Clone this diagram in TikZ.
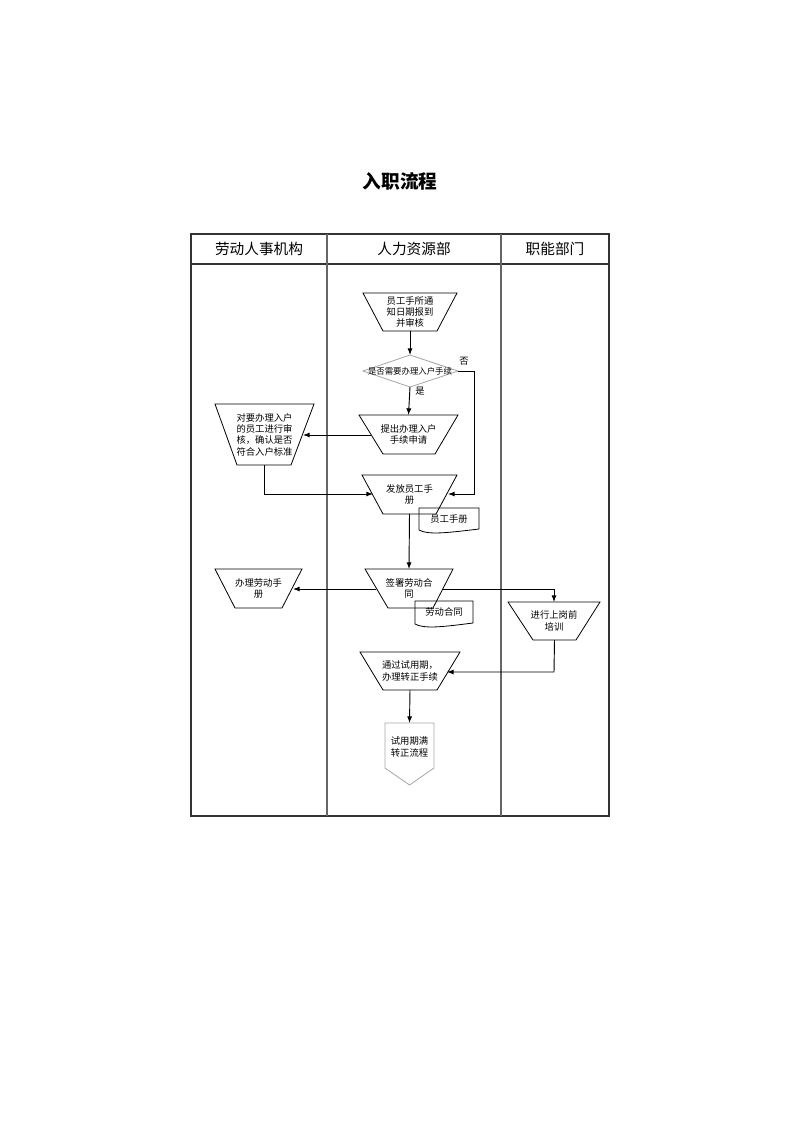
\documentclass[tikz,border=0pt]{standalone}
\usepackage{fontspec}
\setmainfont{Noto Sans CJK SC}
\usetikzlibrary{arrows.meta}
\newcommand{\mytrap}[8]{%
  \draw[shp] (#2,#4) -- (#3,#4) -- (#6,#7) -- (#5,#7) -- cycle;
  \node[txt] (#1) at ({(#2+#3)/2},{(#4+#7)/2}) {#8};
  \coordinate (#1-n) at ({(#2+#3)/2},#4);
  \coordinate (#1-s) at ({(#5+#6)/2},#7);
}
\begin{document}
\begin{tikzpicture}[x=0.75pt,y=-0.75pt,
  shp/.style={draw=black,line width=0.6pt},
  txt/.style={font=\fontsize{7}{8.5}\selectfont,align=center,inner sep=0pt},
  lbl/.style={font=\fontsize{7}{8.5}\selectfont,inner sep=0pt},
  hdr/.style={font=\fontsize{11}{13}\selectfont,inner sep=0pt},
  conn/.style={draw=black,line width=0.7pt},
  arr/.style={conn,-{Latex[length=5pt,width=3.8pt]}},
  frame/.style={draw=black!80,line width=1.1pt},
  colline/.style={draw=black!60,line width=0.8pt}]
\useasboundingbox (0,0) rectangle (800,1131);
% title
\node[font=\fontsize{14}{16}\selectfont\bfseries,inner sep=0pt] (title) at (400,181) {入职流程};
% table
\draw[frame] (191,234) rectangle (609,816);
\draw[frame,line width=0.8pt] (191,264) -- (609,264);
\draw[colline] (327,234) -- (327,816);
\draw[colline] (501,234) -- (501,816);
\node[hdr] (h1) at (259,249) {劳动人事机构};
\node[hdr] (h2) at (414,249) {人力资源部};
\node[hdr] (h3) at (555,249) {职能部门};
% shapes
\mytrap{t1}{363}{457}{293}{383}{437}{331}{员工手所通\\知日期报到\\并审核}
\draw[draw=black!35,line width=0.6pt] (363,371) -- (410,355) -- (458,371) -- (410,387) -- cycle;
\node[txt,font=\fontsize{6.3}{7.5}\selectfont] (dia) at (410,371) {是否需要办理入户手续};
\coordinate (dia-n) at (410,355);
\coordinate (dia-s) at (410,387);
\coordinate (dia-e) at (458,371);
\mytrap{t3}{359}{458}{415}{383}{435}{454}{提出办理入户\\手续申请}
\mytrap{t4}{215}{314}{404}{237}{291}{465}{对要办理入户\\的员工进行审\\核，确认是否\\符合入户标准}
\mytrap{t5}{362}{457}{475}{383}{436}{514}{发放员工手\\册}
\mytrap{t7}{365}{453}{569}{388}{433}{608}{签署劳动合\\同}
\mytrap{t9}{215}{302}{569}{235}{282}{608}{办理劳动手\\册}
\mytrap{t10}{508}{600}{602}{533}{576}{640}{进行上岗前\\培训}
\mytrap{t11}{360}{460}{652}{383}{437}{690}{通过试用期，\\办理转正手续}
% off-page connector
\draw[draw=black!35,line width=0.6pt] (385,723) -- (434,723) -- (434,768) -- (409.5,785) -- (385,768) -- cycle;
\node[txt] (op) at (409.5,747) {试用期满\\转正流程};
\coordinate (op-n) at (409.5,723);
% documents
\draw[shp] (479,529) -- (479,508) -- (419,508) -- (419,530) .. controls (428,535) and (446,533) .. (479,529);
\node[txt] (d1) at (449,519) {员工手册};
\draw[shp] (473,623) -- (473,601) -- (415,601) -- (415,624) .. controls (424,629) and (442,627) .. (473,623);
\node[txt] (d2) at (444,612) {劳动合同};
% connectors
\coordinate (c4a) at (264,494);
\coordinate (c5l) at (373,494);
\coordinate (c5r) at (448,494);
\coordinate (cnoA) at (474,371);
\coordinate (cnoB) at (474,494);
\coordinate (c3l) at (371,435);
\coordinate (c4r) at (303,435);
\coordinate (c7l) at (376,589);
\coordinate (c9r) at (293,589);
\coordinate (c7r) at (442,589);
\coordinate (c10a) at (554,589);
\coordinate (c10b) at (554,672);
\coordinate (c11r) at (447,672);
\draw[arr] (t1-s) -- (dia-n);
\draw[arr] (dia-s) -- (t3-n);
\draw[arr] (dia-e) -- (cnoA) -- (cnoB) -- (c5r);
\draw[arr] (c3l) -- (c4r);
\draw[arr] (t4-s) -- (c4a) -- (c5l);
\draw[arr] (t5-s) -- (t7-n);
\draw[arr] (c7l) -- (c9r);
\draw[arr] (c7r) -- (c10a) -- (t10-n);
\draw[arr] (t10-s) -- (c10b) -- (c11r);
\draw[arr] (t11-s) -- (op-n);
\node[lbl] (no) at (464,361) {否};
\node[lbl] (yes) at (420,391) {是};
\end{tikzpicture}
\end{document}
